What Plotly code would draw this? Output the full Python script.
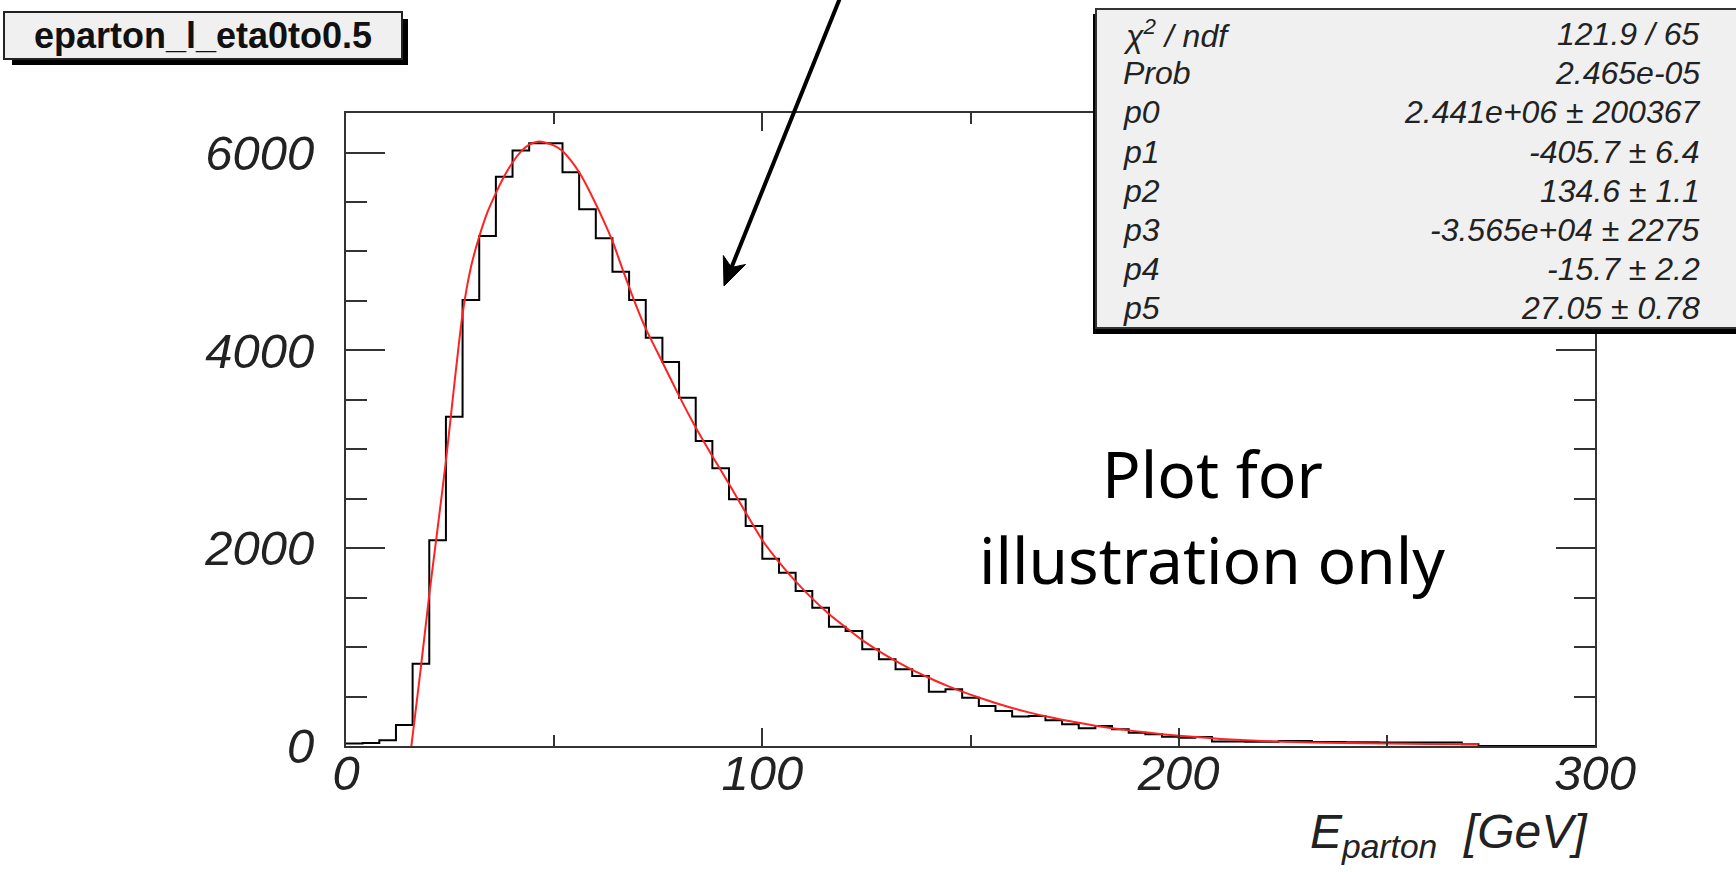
import math
import plotly.graph_objects as go

# ---------------- data ----------------
bin_width = 4
bin_lows = list(range(0, 300, bin_width))
counts = [25, 30, 57, 212, 832, 2080, 3330, 4510, 5157, 5755,
          6020, 6094, 6094, 5800, 5427, 5133, 4796, 4510, 4128, 3883,
          3522, 3084, 2808, 2494, 2225, 1894, 1752, 1567, 1398, 1205,
          1163, 977, 876, 775, 708, 549, 573, 489, 404, 354,
          297, 303, 260, 219, 179, 202, 169, 135, 118, 94,
          84, 91, 45, 45, 42, 42, 51, 51, 40, 40,
          38, 38, 36, 36, 35, 35, 35, 17, 0, 0,
          0, 0, 0, 0, 0]

fit_x = [15.7, 18, 20, 22, 24, 26, 28, 30, 32, 34, 36, 38, 40, 42, 44, 46, 48, 50,
         52, 54, 56, 58, 60, 62, 64, 66, 68, 70, 72, 76, 80, 84, 88, 92, 96, 100,
         104, 108, 112, 116, 120, 124, 128, 132, 136, 140, 144, 148, 152, 156, 160,
         164, 168, 172, 176, 180, 184, 188, 192, 196, 200, 205, 210, 215, 220, 230,
         240, 250, 260, 272]
fit_y = [0, 800, 1530, 2200, 2880, 3650, 4370, 4840, 5150, 5400, 5590, 5760, 5900, 6010,
         6080, 6110, 6100, 6070, 6016, 5920, 5800, 5650, 5480, 5300, 5106, 4870, 4640,
         4420, 4220, 3880, 3540, 3220, 2930, 2650, 2360, 2080, 1860, 1665, 1490, 1335,
         1200, 1070, 960, 860, 770, 690, 615, 550, 490, 435, 385, 340, 300, 265, 235,
         205, 180, 158, 138, 120, 104, 88, 72, 60, 50, 38, 30, 25, 21, 18]

x_ticks = [0, 100, 200, 300]
y_ticks = [0, 2000, 4000, 6000]

hist_name = "eparton_l_eta0to0.5"
stat_labels = ["χ<sup>2</sup> / ndf", "Prob", "p0", "p1", "p2", "p3", "p4", "p5"]
stat_values = ["121.9 / 65", "2.465e-05", "2.441e+06 ± 200367", "-405.7 ± 6.4",
               "134.6 ± 1.1", "-3.565e+04 ± 2275", "-15.7 ± 2.2", "27.05 ± 0.78"]
note_lines = ["Plot for", "illustration only"]
x_title = "E<sub>parton</sub>&nbsp;&nbsp;[GeV]"

# ---------------- layout helpers ----------------
W, H = 1736, 872
L, R, T, B = 346, 141, 113, 126


def px(x):
    return (x - L) / (W - L - R)


def py(y):
    return (H - B - y) / (H - T - B)


fig = go.Figure()

fig.add_trace(go.Scatter(
    x=bin_lows + [300], y=counts + [counts[-1]], mode="lines",
    line=dict(color="black", width=2, shape="hv"), showlegend=False))

fig.add_trace(go.Scatter(
    x=fit_x, y=fit_y, mode="lines",
    line=dict(color="#ff2222", width=2, shape="spline", smoothing=0.6),
    showlegend=False))

tickfont = dict(family="Liberation Sans", size=49, style="italic", color="#222")
axis_common = dict(showline=True, linecolor="#333", linewidth=2, mirror="allticks",
                   ticks="inside", tickcolor="#333", tickwidth=2,
                   showgrid=False, zeroline=False, tickfont=tickfont)

fig.update_xaxes(range=[0, 300], tickvals=x_ticks, ticktext=[str(v) for v in x_ticks],
                 ticklen=18, ticklabelstandoff=-17,
                 minor=dict(ticks="inside", dtick=50, tick0=0, ticklen=11,
                            tickwidth=2, tickcolor="#333", showgrid=False),
                 **axis_common)
fig.update_yaxes(range=[0, 6400], tickvals=y_ticks, ticktext=[str(v) for v in y_ticks],
                 ticklen=39, ticklabelstandoff=20,
                 minor=dict(ticks="inside", dtick=500, tick0=0, ticklen=21,
                            tickwidth=2, tickcolor="#333", showgrid=False),
                 **axis_common)

shapes = []
# title box with shadow
shapes.append(dict(type="rect", xref="paper", yref="paper", layer="above",
                   x0=px(12), x1=px(408), y0=py(19), y1=py(65),
                   fillcolor="black", line=dict(width=0)))
shapes.append(dict(type="rect", xref="paper", yref="paper", layer="above",
                   x0=px(4), x1=px(402), y0=py(12), y1=py(59),
                   fillcolor="#f0f0f0", line=dict(color="#222", width=2)))
# stats box with shadow
shapes.append(dict(type="rect", xref="paper", yref="paper", layer="above",
                   x0=px(1093), x1=px(1740), y0=py(14), y1=py(334),
                   fillcolor="black", line=dict(width=0)))
shapes.append(dict(type="rect", xref="paper", yref="paper", layer="above",
                   x0=px(1096), x1=px(1742), y0=py(9), y1=py(328),
                   fillcolor="#f0f0f0", line=dict(color="#333", width=2)))

# arrow drawn as shapes (line + notched head)
tail = (840.0, -2.0)
tip = (724.0, 286.0)
dx, dy = tip[0] - tail[0], tip[1] - tail[1]
ln = math.hypot(dx, dy)
ux, uy = dx / ln, dy / ln
nx, ny = -uy, ux
head_len, head_half, notch = 28.0, 12.0, 20.0
bcx, bcy = tip[0] - head_len * ux, tip[1] - head_len * uy
ncx, ncy = tip[0] - notch * ux, tip[1] - notch * uy
shapes.append(dict(type="line", xref="paper", yref="paper", layer="above",
                   x0=px(tail[0]), y0=py(tail[1]), x1=px(ncx), y1=py(ncy),
                   line=dict(color="black", width=4)))
head_pts = [tip, (bcx + head_half * nx, bcy + head_half * ny), (ncx, ncy),
            (bcx - head_half * nx, bcy - head_half * ny)]
path = "M " + " L ".join(f"{px(a):.5f},{py(b):.5f}" for a, b in head_pts) + " Z"
shapes.append(dict(type="path", xref="paper", yref="paper", layer="above",
                   path=path, fillcolor="black", line=dict(color="black", width=1)))

annotations = []
annotations.append(dict(xref="paper", yref="paper", x=px(203), y=py(36),
                        text="<b>" + hist_name + "</b>", showarrow=False,
                        xanchor="center", yanchor="middle",
                        font=dict(family="Liberation Sans", size=36, color="#111")))

statfont = dict(family="Liberation Sans", size=32, style="italic", color="#222")
for i, (lab, val) in enumerate(zip(stat_labels, stat_values)):
    yc = 34 + 39.2 * i
    annotations.append(dict(xref="paper", yref="paper", x=px(1121), y=py(yc),
                            text=lab, showarrow=False, xanchor="left",
                            yanchor="middle", font=statfont))
    annotations.append(dict(xref="paper", yref="paper", x=px(1702), y=py(yc),
                            text=val, showarrow=False, xanchor="right",
                            yanchor="middle", font=statfont))

# x axis title
annotations.append(dict(xref="paper", yref="paper", x=px(1590), y=py(835),
                        text=x_title, showarrow=False,
                        xanchor="right", yanchor="middle",
                        font=dict(family="Liberation Sans", size=48,
                                  style="italic", color="#222")))

# illustration text
note_font = dict(family="Noto Sans", size=64, color="black")
for line_text, yc in zip(note_lines, [473, 559]):
    annotations.append(dict(xref="paper", yref="paper", x=px(1212), y=py(yc),
                            text=line_text, showarrow=False, xanchor="center",
                            yanchor="middle", font=note_font))

fig.update_layout(width=W, height=H, autosize=False,
                  margin=dict(l=L, r=R, t=T, b=B),
                  paper_bgcolor="white", plot_bgcolor="white",
                  template="none", showlegend=False,
                  shapes=shapes, annotations=annotations)

fig.write_html("out.html")
